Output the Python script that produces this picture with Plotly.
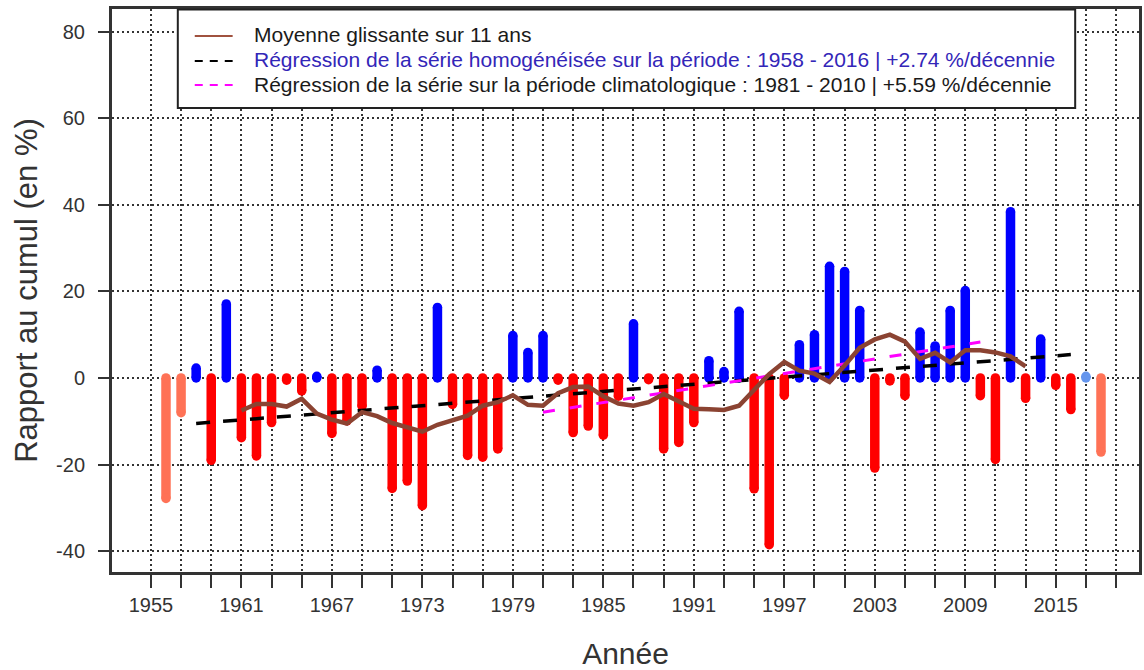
import plotly.graph_objects as go

# ---------------- data ----------------
years = list(range(1956, 2019))
values = [
    -27.8, -8.0, 2.3, -19.0, 17.1, -13.8, -18.0, -10.3, -0.5, -3.0,   # 1956-1965
    0.4, -12.8, -9.9, -6.5, 1.8, -25.5, -23.8, -29.5, 16.3, -6.1,     # 1966-1975
    -17.9, -18.3, -16.4, 9.8, 5.9, 9.8, -0.5, -12.6, -11.1, -13.2,    # 1976-1985
    -4.2, 12.5, -0.4, -16.4, -14.9, -10.3, 4.0, 1.5, 15.4, -25.6,     # 1986-1995
    -38.5, -4.0, 7.7, 10.0, 25.8, 24.6, 15.6, -20.8, -0.7, -4.1,      # 1996-2005
    10.6, 7.4, 15.6, 20.2, -4.1, -18.8, 38.4, -4.7, 9.0, -1.7,        # 2006-2015
    -7.3, 0.4, -17.1,                                                 # 2016-2018
]
period = (1958, 2016)

ma_years = list(range(1961, 2014))
ma_values = [
    -7.5, -6.0, -6.0, -6.6, -4.8, -8.2, -9.6, -10.5, -7.9, -8.8,      # 1961-1970
    -10.4, -11.5, -12.4, -10.8, -9.7, -8.7, -6.4, -5.6, -4.0, -6.2,   # 1971-1980
    -6.4, -3.5, -2.1, -2.0, -4.2, -5.9, -6.4, -5.6, -3.7, -5.3,       # 1981-1990
    -7.1, -7.2, -7.4, -6.4, -2.9, 0.9, 3.7, 1.7, 1.0, -0.9,           # 1991-2000
    2.9, 7.0, 8.9, 10.0, 8.4, 4.4, 5.8, 3.6, 6.4, 6.4,                # 2001-2010
    5.9, 5.0, 2.7,                                                    # 2011-2013
]

reg_years = [1958, 2016]
reg_values = [-10.5, 5.4]
clim_years = [1981, 2010]
clim_values = [-7.9, 8.3]

x_ticks = list(range(1955, 2020, 2))
x_labels = [str(y) if (y - 1955) % 6 == 0 else "" for y in x_ticks]
y_ticks = [-40, -20, 0, 20, 40, 60, 80]
y_labels = ["-40", "-20", "0", "20", "40", "60", "80"]

legend_labels = [
    "Moyenne glissante sur 11 ans",
    "Régression de la série homogénéisée sur la période : 1958 - 2016 | +2.74 %/décennie",
    "Régression de la série sur la période climatologique : 1981 - 2010 | +5.59 %/décennie",
]

# ---------------- styling ----------------
FONT = "Liberation Sans, Arial, sans-serif"
W, H = 1144, 670
ML, MR, MT, MB = 112, 2, 9, 98
PW, PH = W - ML - MR, H - MT - MB
BAR_W = 9.5

def px_x(p):
    return (p - ML) / PW

def px_y(p):
    return (MT + PH - p) / PH

def colour_of(yr, v):
    inside = period[0] <= yr <= period[1]
    if inside:
        return "#0000FF" if v >= 0 else "#FF0000"
    return "#6495ED" if v >= 0 else "#FF7256"

def group():
    groups = {}
    for yr, v in zip(years, values):
        c = colour_of(yr, v)
        xs, ys = groups.setdefault(c, ([], []))
        xs += [yr, yr, None]
        ys += [0, v, None]
    return groups

fig = go.Figure()

for col, (xs, ys) in group().items():
    fig.add_trace(go.Scatter(
        x=xs, y=ys, mode="lines+markers",
        line=dict(color=col, width=BAR_W),
        marker=dict(color=col, size=BAR_W, line=dict(width=0)),
        showlegend=False, hoverinfo="skip",
    ))

fig.add_trace(go.Scatter(
    x=reg_years, y=reg_values, mode="lines",
    line=dict(color="black", width=3.5, dash="14px,13px"),
    showlegend=False, name=legend_labels[1],
))
fig.add_trace(go.Scatter(
    x=clim_years, y=clim_values, mode="lines",
    line=dict(color="#FF00FF", width=3, dash="12px,15px"),
    showlegend=False, name=legend_labels[2],
))
fig.add_trace(go.Scatter(
    x=ma_years, y=ma_values, mode="lines",
    line=dict(color="#8B4332", width=4.5),
    showlegend=False, name=legend_labels[0],
))

# ---------------- manual legend ----------------
shapes = [dict(type="rect", xref="paper", yref="paper",
               x0=px_x(178), x1=px_x(1078), y0=px_y(108), y1=px_y(9.5),
               line=dict(color="#222222", width=2), fillcolor="white", layer="above")]
legend_rows = [35, 60, 84]
legend_styles = [
    dict(color="#A0523F", width=2),
    dict(color="black", width=2, dash="8px,7px"),
    dict(color="#FF00FF", width=2, dash="8px,7px"),
]
legend_text_colors = ["#1a1a1a", "#3326B8", "#1a1a1a"]
annotations = []
for row_y, st, lab, tc in zip(legend_rows, legend_styles, legend_labels, legend_text_colors):
    shapes.append(dict(type="line", xref="paper", yref="paper",
                       x0=px_x(195), x1=px_x(233), y0=px_y(row_y + 1), y1=px_y(row_y + 1),
                       line=st, layer="above"))
    annotations.append(dict(xref="paper", yref="paper", x=px_x(252), y=px_y(row_y),
                            xanchor="left", yanchor="middle", showarrow=False,
                            text=lab, font=dict(family=FONT, size=21, color=tc)))

fig.update_layout(
    width=W, height=H,
    margin=dict(l=ML, r=MR, t=MT, b=MB),
    paper_bgcolor="white", plot_bgcolor="white",
    font=dict(family=FONT, color="#333333"),
    shapes=shapes, annotations=annotations,
    showlegend=False,
)

fig.update_xaxes(
    range=[1952.42, 2020.52],
    tickmode="array", tickvals=x_ticks, ticktext=x_labels,
    ticks="outside", ticklen=13, tickwidth=2, tickcolor="#333333",
    tickfont=dict(family=FONT, size=20, color="#333333"),
    showgrid=True, gridcolor="#333333", gridwidth=1.5, griddash="2px,3px",
    showline=True, mirror=True, linewidth=3, linecolor="#333333",
    zeroline=False,
    title=dict(text="Année", font=dict(family=FONT, size=30, color="#333333"), standoff=31),
)
fig.update_yaxes(
    range=[-44.8, 85.2],
    tickmode="array", tickvals=y_ticks, ticktext=y_labels,
    ticks="outside", ticklen=11, tickwidth=2, tickcolor="#333333",
    tickfont=dict(family=FONT, size=20, color="#333333"),
    showgrid=True, gridcolor="#333333", gridwidth=1.5, griddash="2px,3px",
    showline=True, mirror=True, linewidth=3, linecolor="#333333",
    zeroline=False,
    ticklabelstandoff=9,
    title=dict(text="Rapport au cumul (en %)", font=dict(family=FONT, size=31, color="#333333"), standoff=10),
)

fig.write_html("out.html", config={"displayModeBar": False},
               post_script="document.body.style.margin='0';")
